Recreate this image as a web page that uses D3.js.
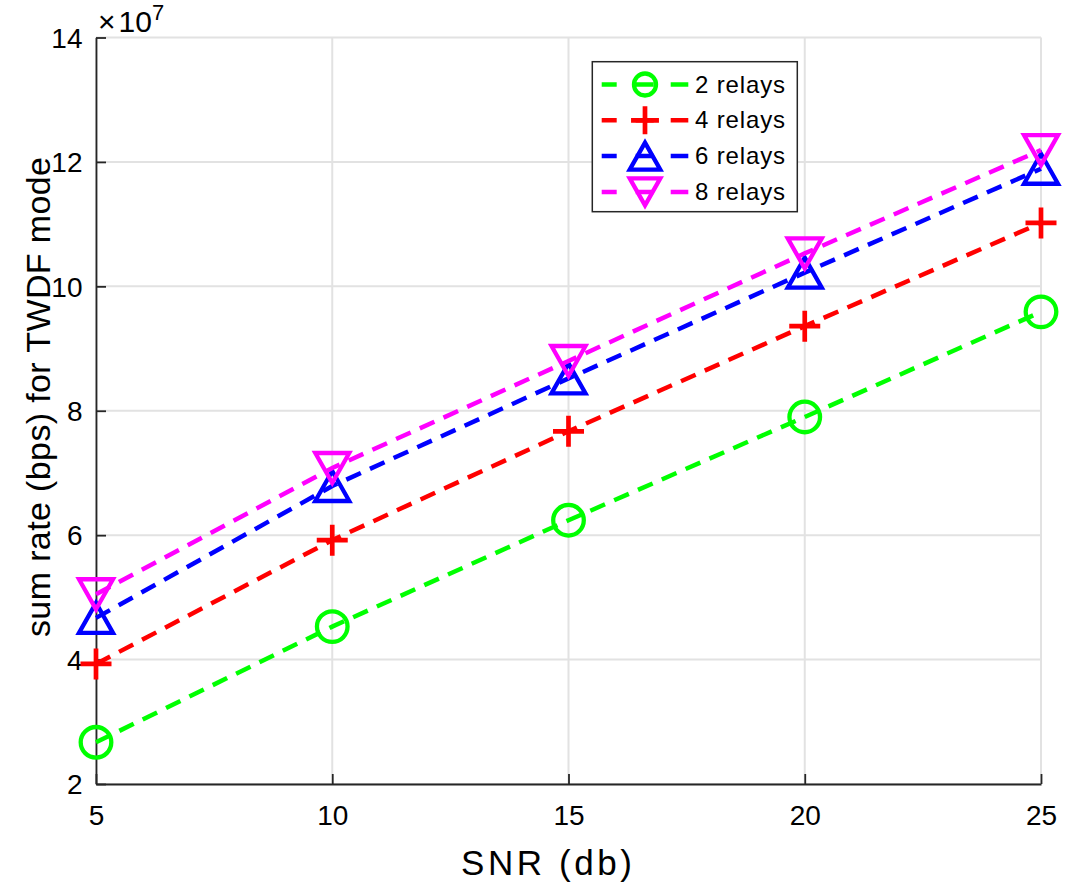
<!DOCTYPE html>
<html>
<head>
<meta charset="utf-8">
<script src="https://cdn.jsdelivr.net/npm/d3@7"></script>
<style>
  html, body { margin: 0; padding: 0; background: #fff; }
  svg { display: block; font-family: "Liberation Sans", Arial, sans-serif; }
</style>
</head>
<body>
<svg id="chart" width="1072" height="887"></svg>
<script>
// ---- data (sum rate in bps) ----
const snr = [5, 10, 15, 20, 25];
const relays2 = [2.67e7, 4.53e7, 6.24e7, 7.90e7, 9.59e7];
const relays4 = [3.93e7, 5.92e7, 7.67e7, 9.36e7, 11.02e7];
const relays6 = [4.67e7, 6.79e7, 8.52e7, 10.22e7, 11.89e7];
const relays8 = [5.05e7, 7.08e7, 8.80e7, 10.53e7, 12.19e7];
const seriesNames = ["2 relays", "4 relays", "6 relays", "8 relays"];
const xTicks = [5, 10, 15, 20, 25];
const yTicks = [2e7, 4e7, 6e7, 8e7, 10e7, 12e7, 14e7];
const xLabel = "SNR (db)";
const yLabel = "sum rate (bps) for TWDF mode";

// ---- layout ----
const L = 96, R = 1041, T = 37.5, B = 784;
const axisColor = "#262626";
const svg = d3.select("#chart");

const x = d3.scaleLinear().domain([5, 25]).range([L, R]);
const y = d3.scaleLinear().domain([2e7, 14e7]).range([B, T]);

const series = [
  { name: seriesNames[0], values: relays2, color: "#00ff00", marker: "circle" },
  { name: seriesNames[1], values: relays4, color: "#ff0000", marker: "plus" },
  { name: seriesNames[2], values: relays6, color: "#0000ff", marker: "up" },
  { name: seriesNames[3], values: relays8, color: "#ff00ff", marker: "down" }
];

// ---- grid ----
const grid = svg.append("g").attr("stroke", "#e2e2e2").attr("stroke-width", 2);
grid.selectAll(".gx").data(xTicks).join("line")
  .attr("x1", d => x(d)).attr("x2", d => x(d)).attr("y1", T).attr("y2", B);
grid.selectAll(".gy").data(yTicks).join("line")
  .attr("x1", L).attr("x2", R).attr("y1", d => y(d)).attr("y2", d => y(d));

// ---- axes ----
const xAxis = svg.append("g").attr("transform", `translate(0,${B})`)
  .call(d3.axisBottom(x).tickValues(xTicks).tickSizeInner(-10).tickSizeOuter(0).tickPadding(21.6).tickFormat(d3.format("d")));
const yAxis = svg.append("g").attr("transform", `translate(${L},0)`)
  .call(d3.axisLeft(y).tickValues(yTicks).tickSizeInner(-10).tickSizeOuter(0).tickPadding(13.5).tickFormat(d => d / 1e7));
[xAxis, yAxis].forEach(a => {
  a.select(".domain").attr("stroke", axisColor).attr("stroke-width", 1.8);
  a.selectAll(".tick line").attr("stroke", axisColor).attr("stroke-width", 1.8);
  a.selectAll(".tick text").attr("fill", "#000").attr("font-size", 28)
    .attr("font-family", "Liberation Sans, Arial, sans-serif");
});
yAxis.selectAll(".tick text").attr("dy", "0.35em");

// exponent label
const expo = svg.append("text").attr("y", 32).attr("font-size", 30).attr("fill", "#000");
expo.append("tspan").attr("x", 98).text("\u00d7");
expo.append("tspan").attr("x", 118.5).text("10");
expo.append("tspan").attr("font-size", 22).attr("dy", -12).text("7");

// axis labels
svg.append("text").attr("x", 546.5).attr("y", 875).attr("text-anchor", "middle")
  .attr("font-size", 35).attr("fill", "#000")
  .attr("textLength", 171).attr("lengthAdjust", "spacing").text(xLabel);
svg.append("text").attr("transform", "translate(50,397) rotate(-90)").attr("text-anchor", "middle")
  .attr("font-size", 34).attr("fill", "#000")
  .attr("textLength", 480).attr("lengthAdjust", "spacing").text(yLabel);

// ---- markers ----
function drawMarker(g, type, cx, cy, color, s) {
  const sw = 4.3;
  if (type === "circle") {
    g.append("circle").attr("cx", cx).attr("cy", cy).attr("r", 15.3 * s)
      .attr("fill", "none").attr("stroke", color).attr("stroke-width", sw);
  } else if (type === "plus") {
    const h = 15.5 * s;
    g.append("path").attr("d", `M${cx - h},${cy}H${cx + h}M${cx},${cy - h}V${cy + h}`)
      .attr("fill", "none").attr("stroke", color).attr("stroke-width", 4.7).attr("stroke-linecap", "butt");
  } else {
    const a = 17 * s, hh = 15 * s;
    const d = type === "up"
      ? `M${cx},${cy - hh}L${cx + a},${cy + hh}L${cx - a},${cy + hh}Z`
      : `M${cx},${cy + hh}L${cx + a},${cy - hh}L${cx - a},${cy - hh}Z`;
    g.append("path").attr("d", d).attr("fill", "none").attr("stroke", color)
      .attr("stroke-width", sw).attr("stroke-linejoin", "miter");
  }
}

const line = d3.line().x((d, i) => x(snr[i])).y(d => y(d));
series.forEach(s => {
  const g = svg.append("g");
  g.append("path").attr("d", line(s.values)).attr("fill", "none")
    .attr("stroke", s.color).attr("stroke-width", 4.5).attr("stroke-dasharray", "16,10");
  s.values.forEach((v, i) => drawMarker(g, s.marker, x(snr[i]), y(v), s.color, 1));
});

// ---- legend ----
const lg = { x: 592.3, y: 61.7, w: 205, h: 150, row0: 84.5, rowGap: 35.8 };
const legend = svg.append("g");
legend.append("rect").attr("x", lg.x).attr("y", lg.y).attr("width", lg.w).attr("height", lg.h)
  .attr("fill", "#fff").attr("stroke", axisColor).attr("stroke-width", 1.5);
series.forEach((s, i) => {
  const cy = lg.row0 + i * lg.rowGap;
  legend.append("line").attr("x1", lg.x + 9.4).attr("x2", lg.x + 96).attr("y1", cy).attr("y2", cy)
    .attr("stroke", s.color).attr("stroke-width", 4.5).attr("stroke-dasharray", "15,19,18,17,18");
  drawMarker(legend, s.marker, lg.x + 52.7, cy, s.color, s.marker === "circle" ? 0.72 : 0.9);
  legend.append("text").attr("x", lg.x + 102.7).attr("y", cy + 8).attr("font-size", 24)
    .attr("fill", "#000").attr("textLength", 90).attr("lengthAdjust", "spacing").text(s.name);
});
</script>
</body>
</html>
